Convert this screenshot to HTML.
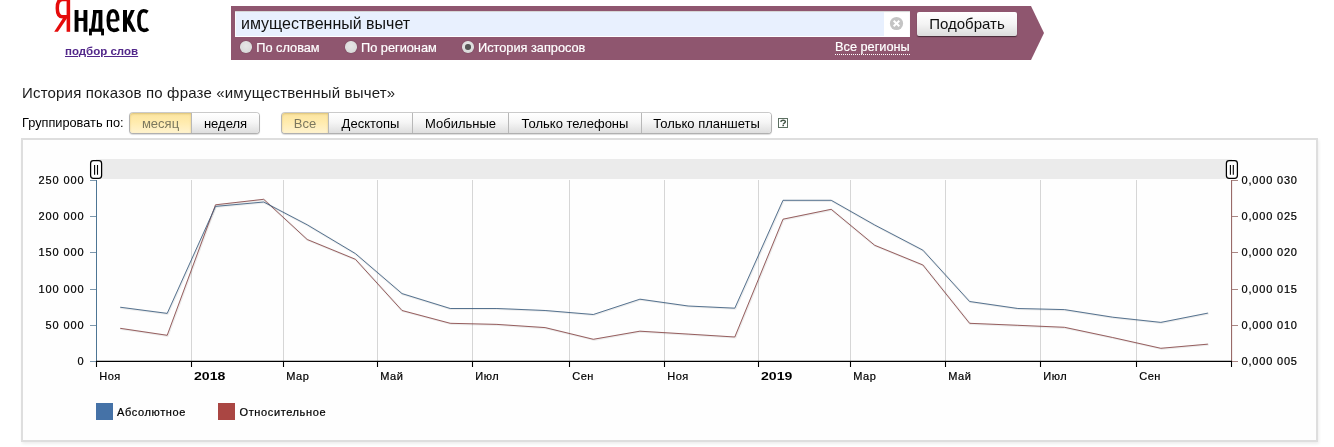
<!DOCTYPE html>
<html lang="ru">
<head>
<meta charset="utf-8">
<title>Яндекс — подбор слов</title>
<style>
html,body{margin:0;padding:0;background:#fff;}
body{width:1334px;height:447px;position:relative;overflow:hidden;font-family:"Liberation Sans",sans-serif;color:#000;}
#root{position:absolute;left:0;top:0;width:1334px;height:447px;will-change:transform;}
#logo{position:absolute;left:0;top:0;}
#sub{position:absolute;left:65px;top:45px;font-size:11.5px;font-weight:bold;color:#52278a;text-decoration:underline;white-space:nowrap;line-height:13px;}
#bar{position:absolute;left:231px;top:6px;width:800px;height:54px;background:#8f566f;}
#arrow{position:absolute;left:1031px;top:6px;width:0;height:0;border-top:27px solid transparent;border-bottom:27px solid transparent;border-left:13px solid #8f566f;}
#inp{position:absolute;left:235px;top:11px;width:675px;height:26px;background:#fff;box-shadow:inset 0 1px 1px rgba(0,0,0,.18);}
#inpin{position:absolute;left:236px;top:12px;width:648px;height:24px;background:#e8f0fe;}
#q{position:absolute;left:241px;top:14px;font-size:16px;line-height:20px;white-space:nowrap;color:#111;}
.radio{position:absolute;top:41.4px;margin-left:.3px;width:11.4px;height:11.4px;border-radius:50%;background:radial-gradient(circle at 50% 40%,#e6e6e6 0,#dcdcdc 60%,#c8c8c8 100%);box-shadow:0 0 1px rgba(60,30,45,.6);}
.radio.on:after{content:"";position:absolute;left:2.9px;top:2.9px;width:5.6px;height:5.6px;border-radius:50%;background:#555;}
.rl{position:absolute;top:39.5px;font-size:12.75px;-webkit-text-stroke:.2px #fff;line-height:15px;color:#fff;white-space:nowrap;}
#reg{position:absolute;left:835px;top:38.6px;font-size:12.75px;-webkit-text-stroke:.2px #fff;line-height:15px;color:#fff;white-space:nowrap;border-bottom:1px dotted #fff;}
#btn{position:absolute;left:917px;top:12px;width:100px;height:24px;border-radius:2px;background:linear-gradient(#fff,#f4f4f4 50%,#dcdcdc);box-shadow:0 1px 1px rgba(0,0,0,.5);font-size:15px;line-height:24px;text-align:center;color:#111;}
#h{position:absolute;left:22px;top:84px;font-size:15px;line-height:18px;white-space:nowrap;color:#1a1a1a;letter-spacing:.18px;}
#gl{position:absolute;left:22px;top:115px;font-size:12.75px;line-height:15px;white-space:nowrap;}
.grp{position:absolute;top:113px;height:20px;border-radius:3px;box-shadow:0 0 0 1px rgba(0,0,0,.2),0 1px 1px 1px rgba(0,0,0,.14);display:flex;overflow:visible;}
.grp div{height:20px;line-height:21px;font-size:13px;text-align:center;background:linear-gradient(#fff,#f6f6f6 45%,#dedede);border-left:1px solid #b8b8b8;box-sizing:border-box;white-space:nowrap;}
.grp div:first-child{border-left:none;border-radius:3px 0 0 3px;}
.grp div:last-child{border-radius:0 3px 3px 0;}
.grp div.sel{background:linear-gradient(#fbe4a0,#ffebad 45%,#fff3cf);color:#7c785f;box-shadow:inset 0 1px 2px rgba(160,130,40,.35);}
#help{position:absolute;left:778px;top:118px;width:8px;height:8px;border:1px solid #3f7a3f;font-size:8px;line-height:8px;text-align:center;color:#3f7a3f;font-weight:bold;}
#frame{position:absolute;left:21px;top:138px;width:1293px;height:300px;border:2px solid #dedede;background:#fefefe;box-shadow:1px 2px 3px rgba(0,0,0,.07);}
#scroll{position:absolute;left:96px;top:159px;width:1136px;height:20.3px;background:#ebebeb;}
.yl,.yr,.xl,.lg{position:absolute;font-size:11px;line-height:14px;white-space:nowrap;color:#000;-webkit-text-stroke:.22px #000;}
.yl{right:1250.4px;text-align:right;letter-spacing:.9px;margin-right:-.9px;}
.yr{left:1241.6px;letter-spacing:.8px;}
.xl{top:369px;letter-spacing:.5px;}
.xl.b{-webkit-text-stroke:0;font-weight:bold;font-size:11px;letter-spacing:0;transform:scaleX(1.28);transform-origin:0 50%;}
.lg{top:405px;letter-spacing:.62px;}
.sq{position:absolute;top:403px;width:17px;height:17px;}
svg{position:absolute;left:0;top:0;overflow:visible;}
</style>
</head>
<body>
<div id="root">
<svg id="logo" width="200" height="40" viewBox="0 0 200 40">
 <g fill="#e50b0b" stroke="none">
  <rect x="66.6" y="-2" width="3.55" height="33.8"/>
  <path d="M63.4 17.4 L67 18.2 L57.9 31.8 L54.2 31.8 Z"/>
 </g>
 <path d="M68 -0.4 H62.4 C58 -0.4 57.3 4.2 57.3 8.2 C57.3 12.9 58.4 16.8 62.6 16.8 H68" fill="none" stroke="#e50b0b" stroke-width="3.5"/>
 <g fill="#000">
  <rect x="74.6" y="10" width="3.9" height="21.8"/>
  <rect x="83.5" y="10" width="3.9" height="21.8"/>
  <rect x="78" y="17.9" width="6" height="3.1"/>
  <rect x="89" y="28.6" width="15" height="3.2"/>
  <rect x="89" y="31" width="2.9" height="4.4"/>
  <rect x="101.1" y="31" width="2.9" height="4.4"/>
  <rect x="98.5" y="10" width="3.9" height="19"/>
  <rect x="93" y="10" width="6" height="3.2"/>
  <path d="M93.4 10 L97 10 L94.7 29 L91.1 29 Z"/>
  <rect x="123" y="10" width="4" height="21.8"/>
  <path d="M126.5 19.4 L130.9 10 L134.8 10 L129.5 21.6 L126.5 23 Z"/>
  <path d="M126.5 19.5 L129.9 19.5 L136.1 31.8 L132.3 31.8 L126.5 22.6 Z"/>
 </g>
 <g fill="none" stroke="#000">
  <path d="M108.5 20.4 H117.6" stroke-width="2.3"/>
  <path d="M117.7 20.6 C117.7 14 116.5 10.8 113 10.8 C109.3 10.8 108.3 15.5 108.3 20.6 C108.3 26.5 109.8 30.4 113.8 30.4 C115.8 30.4 117.3 29.8 118.6 28.8" stroke-width="3.6"/>
  <path d="M147.6 12.2 C146.4 11.3 145.1 10.8 143.6 10.8 C139.9 10.8 138.9 15.5 138.9 20.6 C138.9 26.5 140.1 30.4 143.9 30.4 C145.6 30.4 146.9 29.8 148.1 28.8" stroke-width="3.6"/>
 </g>
</svg>
<div id="sub">подбор слов</div>

<div id="bar"></div><div id="arrow"></div>
<div id="inp"></div><div id="inpin"></div>
<div id="q">имущественный вычет</div>
<svg width="1334" height="60" viewBox="0 0 1334 60"><circle cx="896.5" cy="23.5" r="6.6" fill="#c4c4c4"/><path d="M893.7 20.7 L899.3 26.3 M899.3 20.7 L893.7 26.3" stroke="#fff" stroke-width="2" stroke-linecap="butt"/></svg>
<div id="btn">Подобрать</div>
<div class="radio" style="left:240px"></div><div class="rl" style="left:256.3px">По словам</div>
<div class="radio" style="left:345px"></div><div class="rl" style="left:361px">По регионам</div>
<div class="radio on" style="left:462px"></div><div class="rl" style="left:478px">История запросов</div>
<div id="reg">Все регионы</div>

<div id="h">История показов по фразе «имущественный вычет»</div>
<div id="gl">Группировать по:</div>
<div class="grp" style="left:130px;width:129px"><div class="sel" style="width:61px">месяц</div><div style="width:68px">неделя</div></div>
<div class="grp" style="left:282px;width:489px"><div class="sel" style="width:46px">Все</div><div style="width:84px">Десктопы</div><div style="width:96px">Мобильные</div><div style="width:133px">Только телефоны</div><div style="width:130px">Только планшеты</div></div>
<svg width="1334" height="140" viewBox="0 0 1334 140"><rect x="778.5" y="118.5" width="9" height="9" fill="#fff" stroke="#5d7062" stroke-width="1"/><path d="M780.8 121.9 C780.9 119.9 785.4 119.7 785.4 121.7 C785.4 123 783.2 123.1 783.2 124.4" stroke="#47594b" stroke-width="1.4" fill="none"/><rect x="782.4" y="125" width="1.6" height="1.2" fill="#47594b"/></svg>

<div id="frame"></div>
<div id="scroll"></div>
<svg width="1334" height="447" viewBox="0 0 1334 447">
 <g stroke="#d6d6d6" stroke-width="1" fill="none"><path d="M191.5 180V361.5"/><path d="M283.5 180V361.5"/><path d="M377.5 180V361.5"/><path d="M472.5 180V361.5"/><path d="M569.5 180V361.5"/><path d="M664.5 180V361.5"/><path d="M758.5 180V361.5"/><path d="M850.5 180V361.5"/><path d="M945.5 180V361.5"/><path d="M1040.5 180V361.5"/><path d="M1136.5 180V361.5"/></g>
 <path d="M96.5 180V362" stroke="#4d7594" stroke-width="1" fill="none"/>
 <g stroke="#7d98ad" stroke-width="1" fill="none"><path d="M90 180.5H96"/><path d="M90 216.5H96"/><path d="M90 252.5H96"/><path d="M90 289.5H96"/><path d="M90 325.5H96"/><path d="M90 361.5H96"/></g>
 <path d="M1231.6 180V362" stroke="#8f5b59" stroke-width="1" fill="none"/>
 <g stroke="#a98684" stroke-width="1" fill="none"><path d="M1232 180.5H1238"/><path d="M1232 216.5H1238"/><path d="M1232 252.5H1238"/><path d="M1232 289.5H1238"/><path d="M1232 325.5H1238"/><path d="M1232 361.5H1238"/></g>
 <path d="M96 361.3H1232" stroke="#000" stroke-width="1.35" fill="none"/>
 <g stroke="#000" stroke-width="1.1" fill="none"><path d="M96.5 361V367"/><path d="M191.5 361V367"/><path d="M283.5 361V367"/><path d="M377.5 361V367"/><path d="M472.5 361V367"/><path d="M569.5 361V367"/><path d="M664.5 361V367"/><path d="M758.5 361V367"/><path d="M850.5 361V367"/><path d="M945.5 361V367"/><path d="M1040.5 361V367"/><path d="M1136.5 361V367"/><path d="M1231.5 361V367"/></g>
 <g fill="none" stroke-linejoin="round" stroke-linecap="round">
  <path d="M120.6 328.4 L167.2 335.3 L215.5 204.8 L263.7 199.3 L307.2 239.5 L355.4 259.3 L402.0 310.5 L450.2 323.3 L496.9 324.4 L545.1 327.6 L593.3 339.3 L639.9 331.2 L688.1 334.1 L734.8 337.0 L783.0 219.2 L831.2 209.3 L874.7 245.3 L922.9 265.0 L969.6 323.3 L1017.8 325.3 L1064.4 327.3 L1112.6 337.5 L1160.8 348.3 L1207.5 344.2" stroke="#000" stroke-opacity=".07" stroke-width="2.2" transform="translate(.5,.5)"/>
  <path d="M120.6 307.3 L167.2 313.4 L215.5 206.4 L263.7 202.0 L307.2 224.8 L355.4 253.6 L402.0 293.6 L450.2 308.5 L496.9 308.5 L545.1 310.5 L593.3 314.5 L639.9 299.2 L688.1 306.0 L734.8 308.2 L783.0 200.3 L831.2 200.3 L874.7 225.0 L922.9 250.2 L969.6 301.5 L1017.8 308.5 L1064.4 309.6 L1112.6 317.2 L1160.8 322.4 L1207.5 313.2" stroke="#000" stroke-opacity=".07" stroke-width="2.2" transform="translate(.5,.5)"/>
  <path d="M120.6 328.4 L167.2 335.3 L215.5 204.8 L263.7 199.3 L307.2 239.5 L355.4 259.3 L402.0 310.5 L450.2 323.3 L496.9 324.4 L545.1 327.6 L593.3 339.3 L639.9 331.2 L688.1 334.1 L734.8 337.0 L783.0 219.2 L831.2 209.3 L874.7 245.3 L922.9 265.0 L969.6 323.3 L1017.8 325.3 L1064.4 327.3 L1112.6 337.5 L1160.8 348.3 L1207.5 344.2" stroke="#874444" stroke-width=".85"/>
  <path d="M120.6 307.3 L167.2 313.4 L215.5 206.4 L263.7 202.0 L307.2 224.8 L355.4 253.6 L402.0 293.6 L450.2 308.5 L496.9 308.5 L545.1 310.5 L593.3 314.5 L639.9 299.2 L688.1 306.0 L734.8 308.2 L783.0 200.3 L831.2 200.3 L874.7 225.0 L922.9 250.2 L969.6 301.5 L1017.8 308.5 L1064.4 309.6 L1112.6 317.2 L1160.8 322.4 L1207.5 313.2" stroke="#3a5c7e" stroke-width=".85"/>
 </g>
 <g fill="#fff" stroke="#000" stroke-width="1.25">
  <rect x="90.6" y="160.6" width="11" height="17.8" rx="2.8"/>
  <rect x="1226.4" y="160.6" width="11" height="17.8" rx="2.8"/>
 </g>
 <g stroke="#000" stroke-width="1.1" fill="none">
  <path d="M94.6 165V174.8M97.5 165V174.8"/>
  <path d="M1230.4 165V174.8M1233.3 165V174.8"/>
 </g>
</svg>
<div class="yl" style="top:173px">250 000</div><div class="yl" style="top:209px">200 000</div><div class="yl" style="top:245px">150 000</div><div class="yl" style="top:282px">100 000</div><div class="yl" style="top:318px">50 000</div><div class="yl" style="top:354px">0</div>
<div class="yr" style="top:173px">0,000 030</div><div class="yr" style="top:209px">0,000 025</div><div class="yr" style="top:245px">0,000 020</div><div class="yr" style="top:282px">0,000 015</div><div class="yr" style="top:318px">0,000 010</div><div class="yr" style="top:354px">0,000 005</div>
<div class="xl" style="left:99.3px">Ноя</div><div class="xl b" style="left:194.3px">2018</div><div class="xl" style="left:286.3px">Мар</div><div class="xl" style="left:380.3px">Май</div><div class="xl" style="left:475.3px">Июл</div><div class="xl" style="left:572.3px">Сен</div><div class="xl" style="left:667.3px">Ноя</div><div class="xl b" style="left:761.3px">2019</div><div class="xl" style="left:853.3px">Мар</div><div class="xl" style="left:948.3px">Май</div><div class="xl" style="left:1043.3px">Июл</div><div class="xl" style="left:1139.3px">Сен</div>
<div class="sq" style="left:96px;background:#4572a7"></div><div class="lg" style="left:117px">Абсолютное</div>
<div class="sq" style="left:218px;background:#aa4643"></div><div class="lg" style="left:239.5px">Относительное</div>
</div>
</body>
</html>
